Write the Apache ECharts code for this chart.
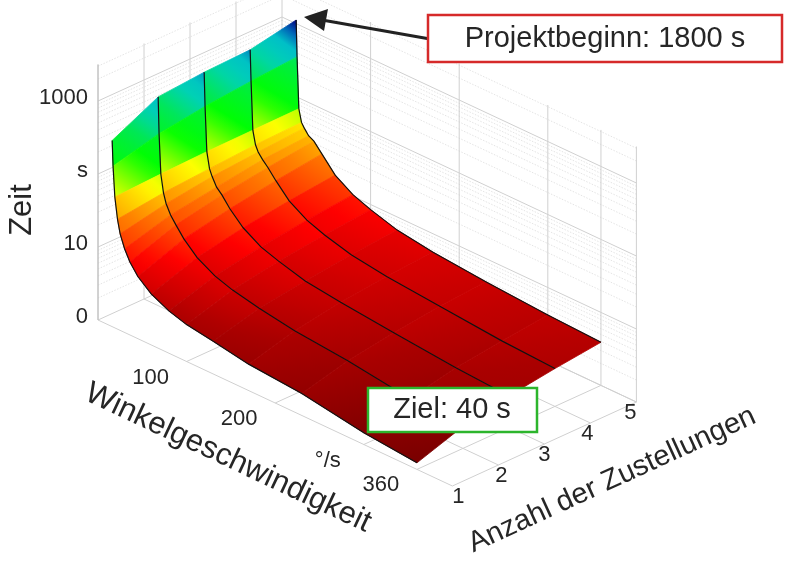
<!DOCTYPE html>
<html>
<head>
<meta charset="utf-8">
<script src="https://cdn.jsdelivr.net/npm/echarts@6/dist/echarts.min.js"></script>
<style>html,body{margin:0;background:#fff}#c{width:800px;height:564px}</style>
</head>
<body>
<div id="c"></div>
<script>
// Winkelgeschwindigkeit (°/s) sample points
var speeds = [16, 17, 19, 22, 25, 30, 36, 45, 60, 80, 100, 130, 170, 230, 300, 360];
// Anzahl der Zustellungen
var counts = [1, 2, 3, 4, 5];
// Zeit in s, one row per count
var times = [
  [355, 160, 62, 32, 21, 14, 10, 7.1, 5.0, 3.8, 3.2, 2.8, 2.3, 2.0, 1.45, 1.23],
  [724, 230, 66, 38, 28, 21, 16.6, 12, 8.1, 5.9, 4.9, 4.1, 3.4, 2.9, 2.2, 2.0],
  [813, 280, 69, 42, 34, 26, 22, 16, 10.7, 7.6, 6.3, 5.0, 4.3, 3.6, 3.0, 2.7],
  [851, 320, 70, 46, 38, 32, 27, 20, 12.9, 9.1, 7.4, 5.9, 5.0, 4.3, 3.6, 3.3],
  [1122, 355, 71, 48, 42, 35, 32, 24, 15, 10.5, 8.5, 6.6, 5.6, 4.8, 4.2, 3.9]
];
var speedTicks = [100, 200, 300, 360];
var speedTickLabels = ['100', '200', '°/s', '360'];
var zTicks = [0, 1, 2, 3];
var zTickLabels = ['0', '10', 's', '1000'];

var O = [98, 320], EV = [0.886, 0.415], EN = [46, -21], EZ = 73;
var VMAX = 400, ZMAX = 3.5;
function P(v, n, z) {
  return [O[0] + v * EV[0] + (n - 1) * EN[0], O[1] + v * EV[1] + (n - 1) * EN[1] - z * EZ];
}
var cmap = [
  [0, [110, 0, 0]], [0.5, [170, 0, 0]], [0.95, [255, 0, 0]], [1.4, [255, 128, 0]],
  [1.75, [255, 255, 0]], [2.15, [0, 255, 0]], [2.5, [0, 235, 70]], [2.72, [0, 210, 180]],
  [2.88, [0, 190, 200]], [2.98, [0, 80, 180]], [3.05, [0, 0, 128]]
];
function colorAt(z) {
  if (z <= cmap[0][0]) z = cmap[0][0];
  for (var k = 1; k < cmap.length; k++) {
    if (z <= cmap[k][0] || k === cmap.length - 1) {
      var a = cmap[k - 1], b = cmap[k];
      var f = Math.max(0, Math.min(1, (z - a[0]) / (b[0] - a[0])));
      return 'rgb(' + [0, 1, 2].map(function (q) { return Math.round(a[1][q] + f * (b[1][q] - a[1][q])); }).join(',') + ')';
    }
  }
}
function lz(j, i) { return Math.log10(times[j][i]); }

// cells, far first
var cells = [];
for (var i = 0; i < speeds.length - 1; i++)
  for (var j = 0; j < counts.length - 1; j++) cells.push([i, j]);
cells.sort(function (a, b) { return (a[0] - a[1]) - (b[0] - b[1]); });

// grid graphics
var gridEls = [];
function line(p1, p2, dotted, color) {
  gridEls.push({ type: 'line', silent: true, shape: { x1: p1[0], y1: p1[1], x2: p2[0], y2: p2[1] },
    style: { stroke: color || (dotted ? '#d8d8d8' : '#d0d0d0'), lineWidth: dotted ? 0.7 : 1, lineDash: dotted ? [1.5, 1.5] : null } });
}
for (var d = 0; d < 4; d++) {
  for (var m = 2; m <= 9; m++) {
    var zz = d + Math.log10(m);
    if (zz > ZMAX) break;
    line(P(0, 1, zz), P(0, 5, zz), true); line(P(0, 5, zz), P(VMAX, 5, zz), true);
  }
}
zTicks.forEach(function (z) { line(P(0, 1, z), P(0, 5, z)); line(P(0, 5, z), P(VMAX, 5, z)); });
counts.forEach(function (n) { line(P(0, n, 0), P(0, n, ZMAX)); line(P(0, n, 0), P(VMAX, n, 0)); });
speedTicks.forEach(function (v) { line(P(v, 1, 0), P(v, 5, 0)); line(P(v, 5, 0), P(v, 5, ZMAX)); });
line(P(VMAX, 5, 0), P(VMAX, 5, ZMAX)); line(P(VMAX, 1, 0), P(VMAX, 5, 0));
line(P(0, 1, 0), P(0, 1, ZMAX), false, '#bbb');

var font = '"Liberation Sans", Arial, sans-serif';
function txt(x, y, s, size, extra) {
  var e = { type: 'text', x: x, y: y, silent: true,
    style: { text: s, fill: '#262626', font: size + 'px ' + font, align: 'center', verticalAlign: 'middle' } };
  if (extra) for (var k in extra) e[k] = extra[k];
  return e;
}
var labelEls = [];
zTicks.forEach(function (z, k) {
  var p = P(0, 1, z);
  labelEls.push(txt(p[0] - 10, p[1] - 3, zTickLabels[k], 22, null));
  labelEls[labelEls.length - 1].style.align = 'right';
});
speedTicks.forEach(function (v, k) {
  var p = P(v, 1, 0);
  labelEls.push(txt(p[0] - 36, p[1] + 16, speedTickLabels[k], 22));
});
counts.forEach(function (n) {
  var p = P(VMAX, n, 0);
  labelEls.push(txt(p[0] + 6 - (n - 1) * 3, p[1] + 11, String(n), 22));
});
labelEls.push(txt(22, 210, 'Zeit', 31, { rotation: Math.PI / 2 }));
labelEls.push(txt(228, 458, 'Winkelgeschwindigkeit', 31, { rotation: -0.44 }));
labelEls.push(txt(612, 480, 'Anzahl der Zustellungen', 29, { rotation: 0.43 }));

var annot = [
  { type: 'line', silent: true, shape: { x1: 430, y1: 39, x2: 322, y2: 20 }, style: { stroke: '#222', lineWidth: 3 } },
  { type: 'polygon', silent: true, shape: { points: [[304, 17], [328, 9], [324, 31]] }, style: { fill: '#222' } },
  { type: 'rect', silent: true, shape: { x: 428, y: 15, width: 354, height: 47 }, style: { fill: '#fff', stroke: '#d62a2a', lineWidth: 2.5 } },
  txt(605, 39, 'Projektbeginn: 1800 s', 29),
  { type: 'rect', silent: true, shape: { x: 368, y: 388, width: 169, height: 44 }, style: { fill: '#fff', stroke: '#2cb52c', lineWidth: 2.5 } },
  txt(452, 410, 'Ziel: 40 s', 29)
];
annot.forEach(function (e) { e.z = 100; });

var chart = echarts.init(document.getElementById('c'));
chart.setOption({
  animation: false,
  graphic: { elements: gridEls.concat(labelEls).concat(annot) },
  series: [{
    type: 'custom',
    coordinateSystem: 'none',
    data: cells,
    z: 5,
    renderItem: function (params, api) {
      var i = api.value(0), j = api.value(1);
      var corners = [[i, j], [i + 1, j], [i + 1, j + 1], [i, j + 1]];
      var pts = [], zs = [];
      corners.forEach(function (c) {
        var z = lz(c[1], c[0]);
        zs.push(z);
        pts.push(P(speeds[c[0]], counts[c[1]], z));
      });
      var lo = 0, hi = 0;
      for (var k = 1; k < 4; k++) { if (zs[k] < zs[lo]) lo = k; if (zs[k] > zs[hi]) hi = k; }
      var stops = [];
      for (var s = 0; s <= 6; s++) stops.push({ offset: s / 6, color: colorAt(zs[lo] + (zs[hi] - zs[lo]) * s / 6) });
      var grad = new echarts.graphic.LinearGradient(pts[lo][0], pts[lo][1], pts[hi][0], pts[hi][1], stops, true);
      return { type: 'polygon', shape: { points: pts }, style: { fill: grad, stroke: grad, lineWidth: 0.8 } };
    }
  }, {
    type: 'custom',
    coordinateSystem: 'none',
    data: counts.map(function (n, j) { return [j]; }),
    z: 6,
    renderItem: function (params, api) {
      var j = api.value(0);
      var pts = speeds.map(function (v, i) { return P(v, counts[j], lz(j, i)); });
      return { type: 'polyline', shape: { points: pts }, style: { stroke: '#111', lineWidth: 1.2, fill: null } };
    }
  }]
});
</script>
</body>
</html>
